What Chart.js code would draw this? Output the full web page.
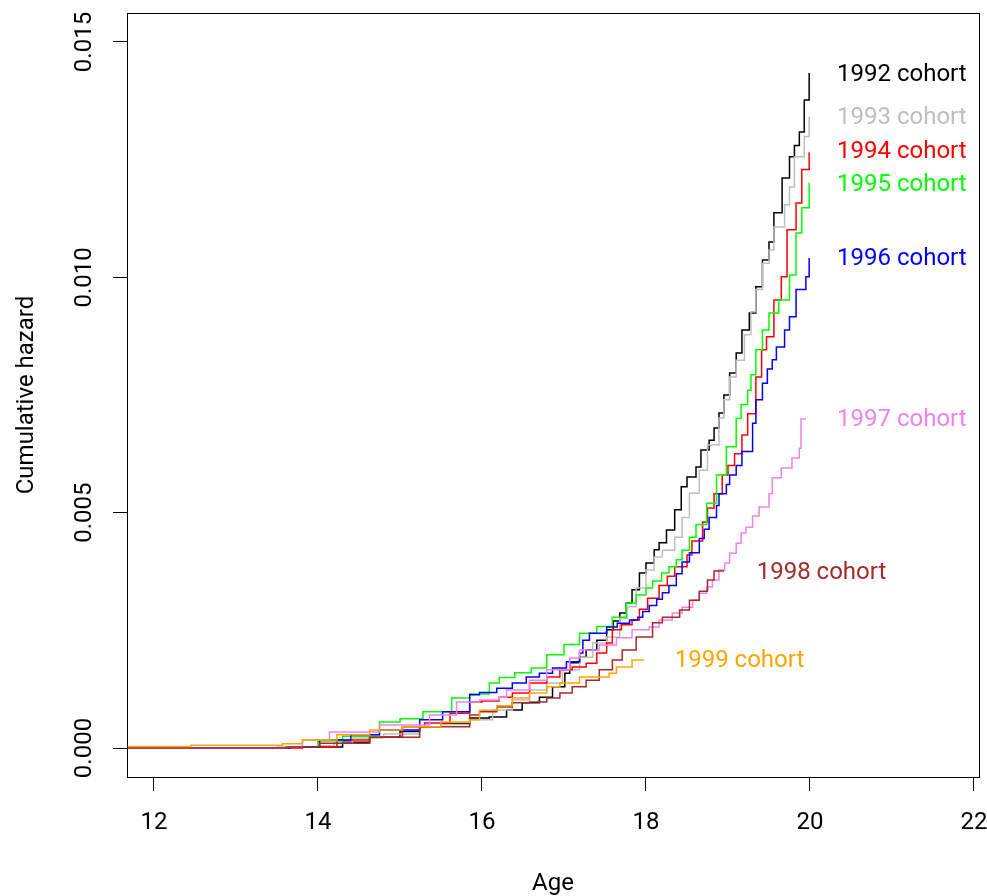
<!DOCTYPE html>
<html>
<head>
<meta charset="utf-8">
<title>Cumulative hazard by cohort</title>
<script src="https://cdn.jsdelivr.net/npm/chart.js@4.4.1/dist/chart.umd.min.js"></script>
<style>
  body { margin: 0; background: #fff; }
  canvas { display: block; }
</style>
</head>
<body>
<canvas id="hazardChart" width="987" height="896"></canvas>
<script>
// Data (age in years, cumulative hazard)
const cohorts = ['1992 cohort', '1993 cohort', '1994 cohort', '1995 cohort',
                 '1996 cohort', '1997 cohort', '1998 cohort', '1999 cohort'];
const cohortColors = ['#000000', '#bebebe', '#ff0000', '#00ff00',
                      '#0000ff', '#ee82ee', '#a52a2a', '#ffa500'];

const age1992 = [13.96, 14.30, 14.63, 15.00, 15.24, 15.50, 15.85, 16.09, 16.30, 16.49,
                 16.70, 16.86, 17.01, 17.07, 17.19, 17.27, 17.40, 17.52, 17.60, 17.68,
                 17.76, 17.83, 17.92, 18.00, 18.10, 18.16, 18.25, 18.35, 18.43, 18.50,
                 18.61, 18.67, 18.77, 18.83, 18.89, 18.95, 19.02, 19.10, 19.17, 19.26,
                 19.34, 19.42, 19.50, 19.56, 19.66, 19.75, 19.81, 19.87, 19.93, 19.99];
const haz1992 = [0.00002, 0.00012, 0.00023, 0.00035, 0.00045, 0.00052, 0.00064, 0.00066, 0.00081, 0.00096,
                 0.00108, 0.00130, 0.00159, 0.00181, 0.00193, 0.00208, 0.00229, 0.00251, 0.00270, 0.00287,
                 0.00308, 0.00336, 0.00372, 0.00393, 0.00421, 0.00436, 0.00463, 0.00506, 0.00555, 0.00576,
                 0.00597, 0.00633, 0.00654, 0.00680, 0.00712, 0.00750, 0.00797, 0.00839, 0.00888, 0.00924,
                 0.00980, 0.01037, 0.01075, 0.01137, 0.01211, 0.01256, 0.01280, 0.01309, 0.01377, 0.01434];

const age1993 = [11.67, 13.50, 14.00, 14.20, 14.42, 14.80, 15.24, 15.50, 15.85, 16.13,
                 16.37, 16.58, 16.79, 16.98, 17.19, 17.35, 17.52, 17.68, 17.77, 17.88,
                 18.00, 18.10, 18.20, 18.35, 18.44, 18.53, 18.65, 18.75, 18.89, 18.95,
                 19.02, 19.10, 19.20, 19.28, 19.34, 19.42, 19.50, 19.56, 19.69, 19.75,
                 19.81, 19.93, 19.99];
const haz1993 = [0, 0.00002, 0.00005, 0.00010, 0.00021, 0.00030, 0.00045, 0.00050, 0.00060, 0.00081,
                 0.00102, 0.00123, 0.00138, 0.00166, 0.00193, 0.00223, 0.00236, 0.00275, 0.00300, 0.00340,
                 0.00378, 0.00406, 0.00420, 0.00448, 0.00490, 0.00541, 0.00590, 0.00644, 0.00701, 0.00740,
                 0.00788, 0.00824, 0.00878, 0.00927, 0.00974, 0.01030, 0.01058, 0.01107, 0.01154, 0.01192,
                 0.01256, 0.01299, 0.01341];

const age1994 = [11.67, 13.81, 14.23, 14.63, 15.03, 15.30, 15.61, 15.85, 16.00, 16.21,
                 16.37, 16.58, 16.79, 16.95, 17.10, 17.27, 17.40, 17.52, 17.59, 17.70,
                 17.83, 17.92, 18.02, 18.16, 18.26, 18.35, 18.50, 18.56, 18.69, 18.75,
                 18.83, 18.93, 19.00, 19.08, 19.17, 19.24, 19.34, 19.41, 19.47, 19.56,
                 19.65, 19.72, 19.83, 19.90, 19.99];
const haz1994 = [0, 0.00002, 0.00017, 0.00023, 0.00045, 0.00053, 0.00074, 0.00098, 0.00100, 0.00108,
                 0.00117, 0.00138, 0.00151, 0.00166, 0.00172, 0.00180, 0.00202, 0.00223, 0.00251, 0.00262,
                 0.00272, 0.00295, 0.00318, 0.00345, 0.00365, 0.00385, 0.00410, 0.00440, 0.00480, 0.00510,
                 0.00540, 0.00580, 0.00600, 0.00625, 0.00665, 0.00710, 0.00788, 0.00846, 0.00874, 0.00952,
                 0.01001, 0.01101, 0.01158, 0.01229, 0.01266];

const age1995 = [11.67, 13.60, 14.00, 14.30, 14.75, 15.00, 15.28, 15.63, 15.85, 16.09,
                 16.21, 16.40, 16.60, 16.79, 17.00, 17.19, 17.40, 17.59, 17.76, 17.88,
                 18.00, 18.08, 18.19, 18.28, 18.37, 18.44, 18.53, 18.61, 18.74, 18.86,
                 18.98, 19.10, 19.16, 19.24, 19.28, 19.34, 19.42, 19.50, 19.62, 19.75,
                 19.83, 19.90, 19.99];
const haz1995 = [0, 0.00002, 0.00015, 0.00025, 0.00055, 0.00062, 0.00077, 0.00106, 0.00115, 0.00138,
                 0.00150, 0.00160, 0.00170, 0.00198, 0.00220, 0.00244, 0.00258, 0.00278, 0.00308, 0.00325,
                 0.00340, 0.00355, 0.00372, 0.00385, 0.00400, 0.00420, 0.00448, 0.00475, 0.00520, 0.00580,
                 0.00640, 0.00700, 0.00730, 0.00760, 0.00793, 0.00846, 0.00888, 0.00924, 0.00952, 0.01005,
                 0.01094, 0.01148, 0.01201];

const age1996 = [11.67, 13.66, 14.02, 14.40, 14.75, 15.24, 15.52, 15.85, 15.97, 16.18,
                 16.37, 16.54, 16.70, 16.86, 17.03, 17.19, 17.23, 17.31, 17.52, 17.65,
                 17.80, 17.90, 17.96, 18.04, 18.13, 18.20, 18.28, 18.37, 18.44, 18.53,
                 18.65, 18.71, 18.77, 18.86, 18.89, 18.98, 19.02, 19.10, 19.17, 19.30,
                 19.34, 19.42, 19.48, 19.54, 19.59, 19.69, 19.75, 19.83, 19.95, 19.99];
const haz1996 = [0, 0.00002, 0.00017, 0.00028, 0.00038, 0.00060, 0.00077, 0.00113, 0.00118, 0.00127,
                 0.00138, 0.00151, 0.00159, 0.00170, 0.00183, 0.00202, 0.00229, 0.00244, 0.00257, 0.00265,
                 0.00272, 0.00278, 0.00290, 0.00303, 0.00316, 0.00330, 0.00345, 0.00370, 0.00395, 0.00415,
                 0.00445, 0.00465, 0.00490, 0.00515, 0.00540, 0.00560, 0.00580, 0.00600, 0.00630, 0.00690,
                 0.00740, 0.00775, 0.00805, 0.00825, 0.00852, 0.00888, 0.00916, 0.00974, 0.01001, 0.01041];

const age1997 = [11.67, 13.62, 13.81, 14.14, 14.75, 15.36, 15.69, 15.97, 16.21, 16.30,
                 16.58, 16.79, 17.07, 17.19, 17.43, 17.64, 17.83, 18.04, 18.16, 18.32,
                 18.44, 18.57, 18.65, 18.74, 18.81, 18.89, 18.96, 19.02, 19.10, 19.16,
                 19.22, 19.30, 19.38, 19.50, 19.54, 19.65, 19.78, 19.87, 19.89, 19.95];
const haz1997 = [0, 0.00002, 0.00017, 0.00034, 0.00049, 0.00070, 0.00098, 0.00102, 0.00108, 0.00123,
                 0.00144, 0.00166, 0.00191, 0.00208, 0.00219, 0.00234, 0.00251, 0.00257, 0.00272, 0.00287,
                 0.00299, 0.00314, 0.00329, 0.00342, 0.00357, 0.00378, 0.00393, 0.00414, 0.00435, 0.00457,
                 0.00469, 0.00493, 0.00512, 0.00540, 0.00574, 0.00595, 0.00616, 0.00637, 0.00699, 0.00699];

const age1998 = [11.67, 13.62, 14.02, 14.63, 15.24, 15.85, 15.97, 16.18, 16.37, 16.58,
                 16.79, 16.95, 17.10, 17.27, 17.43, 17.59, 17.71, 17.88, 18.08, 18.20,
                 18.41, 18.53, 18.65, 18.75, 18.83, 18.95];
const haz1998 = [0, 0.00002, 0.00010, 0.00023, 0.00045, 0.00070, 0.00077, 0.00087, 0.00096, 0.00098,
                 0.00106, 0.00117, 0.00130, 0.00144, 0.00166, 0.00187, 0.00208, 0.00236, 0.00266, 0.00278,
                 0.00293, 0.00314, 0.00333, 0.00357, 0.00376, 0.00376];

const age1999 = [11.67, 12.45, 13.57, 13.81, 14.23, 14.63, 15.03, 15.50, 15.85, 15.97,
                 16.18, 16.37, 16.58, 16.79, 16.95, 17.19, 17.55, 17.64, 17.83, 17.98];
const haz1999 = [0.00003, 0.00006, 0.00009, 0.00017, 0.00028, 0.00038, 0.00045, 0.00055, 0.00060, 0.00080,
                 0.00090, 0.00106, 0.00117, 0.00130, 0.00138, 0.00151, 0.00159, 0.00172, 0.00187, 0.00187];

const cohortAges = [age1992, age1993, age1994, age1995, age1996, age1997, age1998, age1999];
const cohortHaz = [haz1992, haz1993, haz1994, haz1995, haz1996, haz1997, haz1998, haz1999];

// where each cohort's text label sits (age, hazard)
const labelAge = [20.33, 20.33, 20.33, 20.33, 20.33, 20.33, 19.35, 18.35];
const labelHaz = [0.01430, 0.01339, 0.01267, 0.01196, 0.01039, 0.00697, 0.00372, 0.00185];

const xTicks = [12, 14, 16, 18, 20, 22];
const yTicks = [0, 0.005, 0.010, 0.015];

const FONT = { family: 'Roboto, "Liberation Sans", Arial, sans-serif', size: 24 };

// R-style box around the plot region
const boxPlugin = {
    id: 'plotBox',
    afterDraw(chart) {
        const { ctx, chartArea: a } = chart;
        ctx.save();
        ctx.strokeStyle = '#000';
        ctx.lineWidth = 1;
        ctx.strokeRect(Math.round(a.left) + 0.5, Math.round(a.top) + 0.5,
                       Math.round(a.right - a.left), Math.round(a.bottom - a.top));
        ctx.restore();
    }
};

// cohort names written next to the curves
const cohortLabels = {
    id: 'cohortLabels',
    afterDatasetsDraw(chart) {
        const { ctx, scales: { x, y } } = chart;
        ctx.save();
        ctx.font = `${FONT.size}px ${FONT.family}`;
        ctx.textAlign = 'left';
        ctx.textBaseline = 'middle';
        cohorts.forEach((name, i) => {
            ctx.fillStyle = cohortColors[i];
            ctx.fillText(name, x.getPixelForValue(labelAge[i]), y.getPixelForValue(labelHaz[i]));
        });
        ctx.restore();
    }
};

const datasets = cohorts.map((name, i) => ({
    label: name,
    data: cohortAges[i].map((a, j) => ({ x: a, y: cohortHaz[i][j] })),
    borderColor: cohortColors[i],
    borderWidth: 1.5,
    stepped: true,
    pointRadius: 0,
    fill: false,
    order: cohorts.length - i
}));

new Chart(document.getElementById('hazardChart'), {
    type: 'line',
    data: { datasets },
    options: {
        responsive: false,
        animation: false,
        devicePixelRatio: 1,
        layout: { padding: { left: 0, top: 13, right: 8, bottom: 0 } },
        plugins: {
            legend: { display: false },
            tooltip: { enabled: false }
        },
        scales: {
            x: {
                type: 'linear',
                min: 11.671,
                max: 22.061,
                afterBuildTicks: (scale) => { scale.ticks = xTicks.map(v => ({ value: v })); },
                afterFit: (scale) => {
                    scale.height = 119;
                    scale.paddingLeft = 0;
                    scale.paddingRight = 0;
                },
                ticks: {
                    font: FONT,
                    color: '#000',
                    padding: 18,
                    autoSkip: false,
                    maxRotation: 0,
                    callback: (v) => String(v)
                },
                grid: { drawOnChartArea: false, tickLength: 14, color: '#000', lineWidth: 1 },
                border: { display: true, color: '#000', width: 1 },
                title: {
                    display: true,
                    text: 'Age',
                    font: FONT,
                    color: '#000',
                    padding: { top: 0, bottom: -2 }
                }
            },
            y: {
                type: 'linear',
                min: -0.000616,
                max: 0.015616,
                afterBuildTicks: (scale) => { scale.ticks = yTicks.map(v => ({ value: v })); },
                afterFit: (scale) => {
                    scale.width = 127;
                    scale.paddingTop = 0;
                    scale.paddingBottom = 0;
                },
                ticks: {
                    font: FONT,
                    color: '#000',
                    padding: -2,
                    minRotation: 90,
                    maxRotation: 90,
                    crossAlign: 'center',
                    autoSkip: false,
                    callback: (v) => v.toFixed(3)
                },
                grid: { drawOnChartArea: false, tickLength: 14, color: '#000', lineWidth: 1 },
                border: { display: true, color: '#000', width: 1 },
                title: {
                    display: true,
                    text: 'Cumulative hazard',
                    font: FONT,
                    color: '#000',
                    padding: { top: 13, bottom: 0 }
                }
            }
        }
    },
    plugins: [boxPlugin, cohortLabels]
});
</script>
</body>
</html>
